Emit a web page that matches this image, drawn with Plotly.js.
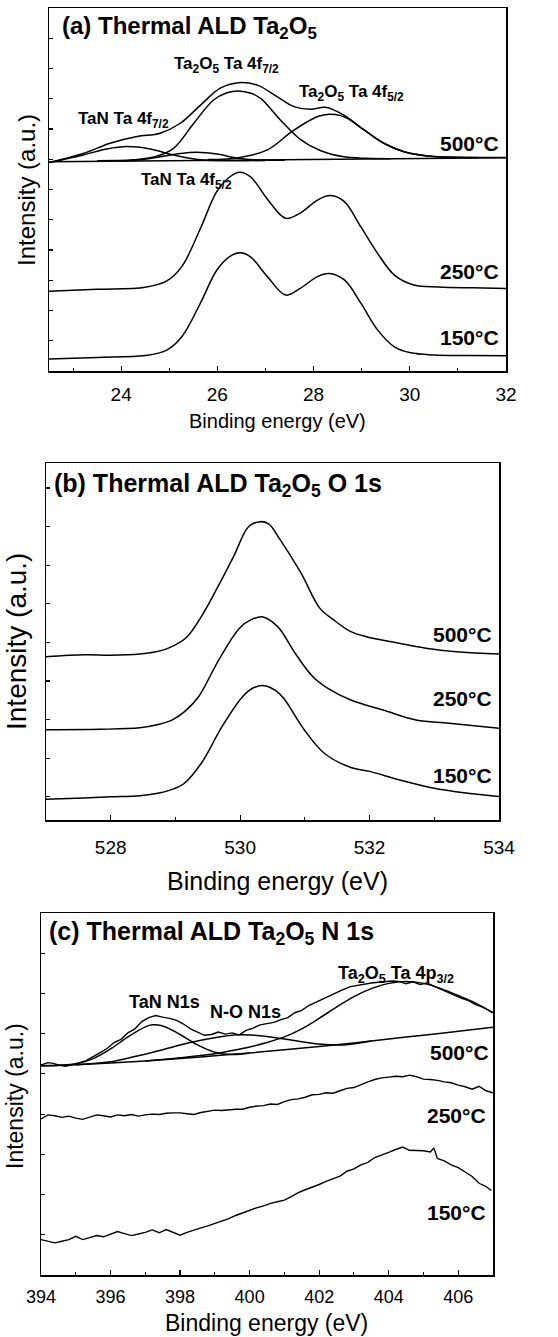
<!DOCTYPE html>
<html>
<head>
<meta charset="utf-8">
<script src="https://cdn.plot.ly/plotly-3.0.1.min.js"></script>
<style>
html,body{margin:0;padding:0;background:#fff;}
#chart{width:558px;height:1337px;}
</style>
</head>
<body>
<div id="chart"></div>
<script>
// ---------------- Panel (a): Ta 4f ----------------
const a150_x = [22.5, 23.5, 24.5, 24.95, 25.26, 25.65, 25.99, 26.27, 26.48, 26.69, 27.04, 27.42, 27.73, 28.08, 28.32, 28.64, 28.98, 29.33, 29.68, 30.02, 30.5, 31.2, 32];
const a150_y = [0.40, 0.45, 0.51, 0.69, 1.13, 2.25, 3.34, 3.80, 3.91, 3.77, 3.12, 2.51, 2.74, 3.12, 3.22, 3.01, 2.25, 1.36, 0.80, 0.60, 0.53, 0.51, 0.50];

const a250_x = [22.5, 23.5, 24.5, 24.95, 25.26, 25.65, 25.99, 26.27, 26.46, 26.69, 27.04, 27.42, 27.73, 28.08, 28.35, 28.64, 28.98, 29.33, 29.68, 30.09, 30.6, 31.3, 32];
const a250_y = [2.64, 2.70, 2.77, 2.98, 3.45, 4.72, 5.94, 6.43, 6.57, 6.42, 5.68, 5.05, 5.23, 5.65, 5.80, 5.60, 4.77, 3.89, 3.17, 2.84, 2.78, 2.75, 2.73];

const a500_x = [22.5, 23.21, 23.77, 24.33, 24.81, 25.23, 25.65, 26.06, 26.44, 26.83, 27.24, 27.59, 27.94, 28.25, 28.63, 29.05, 29.46, 29.88, 30.37, 31.2, 32];
const a500_y = [6.89, 7.19, 7.53, 7.75, 7.86, 8.19, 8.79, 9.35, 9.53, 9.45, 9.07, 8.74, 8.65, 8.72, 8.46, 7.97, 7.53, 7.25, 7.11, 7.06, 7.06];

const aOx72_x = [23.5, 24.25, 24.7, 25.09, 25.51, 25.92, 26.2, 26.44, 26.7, 26.9, 27.31, 27.73, 28.15, 28.63, 29.1, 29.6];
const aOx72_y = [6.95, 6.98, 7.08, 7.36, 8.19, 8.96, 9.20, 9.26, 9.18, 9.01, 8.30, 7.65, 7.28, 7.08, 7.03, 7.02];

const aOx52_x = [25.8, 26.34, 27.04, 27.52, 27.87, 28.1, 28.32, 28.55, 28.7, 29.05, 29.46, 29.88, 30.37, 30.9, 31.4];
const aOx52_y = [6.99, 7.03, 7.31, 7.88, 8.24, 8.42, 8.49, 8.45, 8.35, 7.97, 7.53, 7.25, 7.11, 7.07, 7.06];

const aTaN72_x = [22.52, 23.21, 23.7, 24.12, 24.6, 25.09, 25.65, 26.3, 27.0];
const aTaN72_y = [6.89, 7.14, 7.34, 7.42, 7.34, 7.14, 6.98, 6.95, 6.96];

const aTaN52_x = [24.0, 24.4, 24.81, 25.23, 25.58, 25.99, 26.44, 26.9, 27.4];
const aTaN52_y = [6.94, 6.98, 7.08, 7.19, 7.23, 7.17, 7.03, 6.97, 6.97];

const aBg_x = [22.5, 32];
const aBg_y = [6.92, 7.05];

// ---------------- Panel (b): O 1s ----------------
const b150_x = [527.0, 527.58, 528.0, 528.45, 528.75, 528.96, 529.13, 529.4, 529.72, 530.04, 530.2, 530.38, 530.55, 530.67, 530.99, 531.3, 531.71, 532.0, 532.46, 532.98, 533.49, 534.0];
const b150_y = [-0.06, -0.03, 0.00, 0.03, 0.10, 0.20, 0.34, 0.87, 1.82, 2.60, 2.82, 2.88, 2.75, 2.56, 1.74, 1.13, 0.76, 0.66, 0.44, 0.23, 0.10, 0.01];

const b250_x = [527.0, 527.83, 528.45, 528.75, 528.96, 529.15, 529.36, 529.67, 529.99, 530.17, 530.35, 530.58, 530.85, 531.12, 531.35, 531.71, 532.21, 532.72, 533.23, 534.0];
const b250_y = [1.74, 1.75, 1.79, 1.88, 2.00, 2.22, 2.60, 3.55, 4.37, 4.59, 4.66, 4.41, 3.72, 3.12, 2.82, 2.51, 2.25, 1.99, 1.91, 1.78];

const b500_x = [527.0, 527.6, 528.0, 528.45, 528.7, 528.9, 529.17, 529.4, 529.63, 529.9, 530.13, 530.31, 530.44, 530.62, 530.94, 531.23, 531.44, 531.71, 531.95, 532.46, 532.87, 533.39, 534.0];
const b500_y = [3.63, 3.68, 3.67, 3.70, 3.76, 3.86, 4.13, 4.67, 5.36, 6.23, 7.00, 7.13, 7.07, 6.66, 5.80, 4.89, 4.59, 4.28, 4.15, 3.98, 3.85, 3.75, 3.70];

// ---------------- Panel (c): N 1s ----------------
const c150_x = [394.0, 394.2, 394.4, 394.6, 394.8, 395.0, 395.2, 395.4, 395.6, 395.8, 396.0, 396.2, 396.4, 396.6, 396.8, 397.0, 397.2, 397.4, 397.6, 397.8, 398.0, 398.2, 398.4, 398.6, 398.8, 399.0, 399.2, 399.4, 399.6, 399.8, 400.0, 400.2, 400.4, 400.6, 400.8, 401.0, 401.2, 401.4, 401.6, 401.8, 402.0, 402.2, 402.4, 402.6, 402.8, 403.0, 403.2, 403.4, 403.6, 403.8, 404.0, 404.2, 404.4, 404.6, 404.8, 405.0, 405.2, 405.3, 405.4, 405.6, 405.8, 406.0, 406.2, 406.4, 406.6, 406.8, 406.95];
const c150_y = [0.88, 0.84, 0.80, 0.84, 0.88, 0.96, 0.88, 0.93, 0.98, 0.95, 1.02, 1.08, 1.03, 0.98, 1.02, 1.06, 1.12, 1.05, 1.13, 1.06, 0.99, 1.06, 1.12, 1.17, 1.22, 1.28, 1.34, 1.40, 1.48, 1.55, 1.62, 1.67, 1.72, 1.78, 1.82, 1.86, 1.95, 2.05, 2.12, 2.18, 2.25, 2.33, 2.40, 2.46, 2.58, 2.64, 2.74, 2.80, 2.92, 2.98, 3.05, 3.12, 3.18, 3.10, 3.09, 3.09, 3.06, 3.16, 2.90, 2.84, 2.74, 2.67, 2.56, 2.45, 2.28, 2.20, 2.10];

const c250_x = [394.0, 394.2, 394.4, 394.6, 394.8, 395.0, 395.2, 395.4, 395.6, 395.8, 396.0, 396.2, 396.4, 396.6, 396.8, 397.0, 397.2, 397.4, 397.6, 397.8, 398.0, 398.2, 398.4, 398.6, 398.8, 399.0, 399.2, 399.4, 399.6, 399.8, 400.0, 400.2, 400.4, 400.6, 400.8, 401.0, 401.2, 401.4, 401.6, 401.8, 402.0, 402.2, 402.4, 402.6, 402.8, 403.0, 403.2, 403.4, 403.6, 403.8, 404.0, 404.2, 404.4, 404.6, 404.8, 405.0, 405.2, 405.4, 405.6, 405.8, 406.0, 406.2, 406.4, 406.6, 406.8, 407.0];
const c250_y = [3.88, 3.98, 3.96, 3.92, 3.95, 3.90, 3.87, 3.93, 3.98, 3.96, 3.93, 3.98, 3.96, 3.99, 3.95, 3.98, 4.00, 3.99, 4.02, 4.03, 4.03, 4.01, 3.99, 4.04, 4.07, 4.10, 4.09, 4.11, 4.12, 4.12, 4.17, 4.20, 4.21, 4.25, 4.24, 4.31, 4.36, 4.38, 4.42, 4.48, 4.49, 4.53, 4.52, 4.58, 4.64, 4.66, 4.74, 4.80, 4.86, 4.90, 4.92, 4.94, 4.93, 4.97, 4.93, 4.87, 4.86, 4.84, 4.80, 4.78, 4.72, 4.68, 4.62, 4.69, 4.58, 4.53];

const c500_x = [394.0, 394.2, 394.35, 394.5, 394.7, 394.9, 395.1, 395.3, 395.5, 395.7, 395.9, 396.1, 396.3, 396.5, 396.7, 396.9, 397.1, 397.3, 397.5, 397.7, 397.9, 398.1, 398.3, 398.5, 398.7, 398.9, 399.1, 399.3, 399.5, 399.7, 399.9, 400.1, 400.3, 400.5, 400.7, 400.9, 401.1, 401.3, 401.5, 401.7, 401.9, 402.1, 402.3, 402.5, 402.7, 402.9, 403.1, 403.3, 403.5, 403.7, 403.9, 404.1, 404.3, 404.5, 404.7, 404.9, 405.1, 405.3, 405.5, 405.7, 405.9, 406.1, 406.3, 406.5, 406.7, 406.9, 407.0];
const c500_y = [5.22, 5.28, 5.26, 5.22, 5.19, 5.23, 5.27, 5.33, 5.42, 5.53, 5.63, 5.78, 5.86, 6.02, 6.12, 6.30, 6.40, 6.45, 6.41, 6.38, 6.33, 6.24, 6.12, 6.03, 5.96, 5.98, 6.04, 5.99, 6.02, 5.97, 6.08, 6.14, 6.22, 6.25, 6.28, 6.35, 6.40, 6.52, 6.58, 6.70, 6.78, 6.87, 6.96, 7.04, 7.10, 7.17, 7.20, 7.24, 7.26, 7.28, 7.30, 7.31, 7.30, 7.24, 7.29, 7.22, 7.26, 7.18, 7.10, 7.02, 6.96, 6.88, 6.82, 6.72, 6.66, 6.56, 6.52];

const cBg_x = [394, 395, 396, 397, 398, 399, 400, 401, 402, 403, 404, 405, 406, 407];
const cBg_y = [5.20, 5.23, 5.27, 5.32, 5.38, 5.45, 5.52, 5.60, 5.68, 5.77, 5.87, 5.96, 6.06, 6.16];

const cTaN_x = [394.0, 394.5, 395.0, 395.5, 396.0, 396.5, 397.0, 397.2, 397.5, 398.0, 398.5, 399.0, 399.5, 400.0];
const cTaN_y = [5.20, 5.21, 5.25, 5.38, 5.62, 5.92, 6.17, 6.22, 6.19, 5.98, 5.72, 5.54, 5.48, 5.52];

const cNO_x = [395.0, 396.0, 396.7, 397.5, 398.2, 399.0, 399.7, 400.3, 400.9, 401.5, 402.0, 402.7, 403.5];
const cNO_y = [5.23, 5.30, 5.43, 5.60, 5.76, 5.90, 5.97, 5.95, 5.88, 5.80, 5.74, 5.72, 5.82];

const cOx_x = [397.0, 398.0, 399.0, 399.5, 400.0, 400.5, 401.0, 401.5, 402.0, 402.5, 403.0, 403.5, 404.0, 404.5, 405.0, 405.5, 406.0, 406.5, 407.0];
const cOx_y = [5.32, 5.40, 5.50, 5.58, 5.67, 5.78, 5.92, 6.12, 6.38, 6.66, 6.92, 7.12, 7.25, 7.30, 7.25, 7.12, 6.95, 6.76, 6.52];

// tick labels / texts
const tempLabels = ['500°C', '250°C', '150°C'];
const xTitle = 'Binding energy (eV)';
const yTitle = 'Intensity (a.u.)';

// ---------------- build ----------------
const W = 558, H = 1337;
const px = v => v / W;
const py = v => 1 - v / H;
const FONT = 'Liberation Sans, Arial, Helvetica, sans-serif';

function line(x, y, ax, smooth) {
  return {
    x: x, y: y, xaxis: 'x' + ax, yaxis: 'y' + ax, type: 'scatter', mode: 'lines',
    line: smooth ? {color: '#000', width: 1.5, shape: 'spline', smoothing: 1} : {color: '#000', width: 1.4},
    hoverinfo: 'skip', showlegend: false
  };
}
const traces = [
  line(aBg_x, aBg_y, '', true),
  line(a150_x, a150_y, '', true), line(a250_x, a250_y, '', true), line(a500_x, a500_y, '', true),
  line(aOx72_x, aOx72_y, '', true), line(aOx52_x, aOx52_y, '', true),
  line(aTaN72_x, aTaN72_y, '', true), line(aTaN52_x, aTaN52_y, '', true),
  line(b150_x, b150_y, '2', true), line(b250_x, b250_y, '2', true), line(b500_x, b500_y, '2', true),
  line(c150_x, c150_y, '3', false), line(c250_x, c250_y, '3', false), line(c500_x, c500_y, '3', false),
  line(cBg_x, cBg_y, '3', true), line(cTaN_x, cTaN_y, '3', true), line(cNO_x, cNO_y, '3', true), line(cOx_x, cOx_y, '3', true)
];

function xax(dom, rng, anchor, fs, standoff) {
  return {
    domain: dom, range: rng, anchor: anchor, dtick: 2, ticks: 'inside', ticklen: 5, tickwidth: 1.2, tickcolor: '#000',
    minor: {dtick: 1, ticks: 'inside', ticklen: 3, tickwidth: 1, tickcolor: '#000'},
    showline: true, mirror: true, linecolor: '#000', linewidth: 1.5, showgrid: false, zeroline: false,
    tickfont: {family: FONT, size: fs, color: '#000'}, ticklabelstandoff: standoff, fixedrange: true
  };
}
function yax(dom, rng, anchor) {
  return {
    domain: dom, range: rng, anchor: anchor, tick0: 0, dtick: 1, ticks: 'inside', ticklen: 4, tickwidth: 1.2, tickcolor: '#000',
    showticklabels: false, showline: true, mirror: true, linecolor: '#000', linewidth: 1.5, showgrid: false, zeroline: false, fixedrange: true
  };
}

function ann(text, x, y, size, opts) {
  return Object.assign({
    text: text, xref: 'paper', yref: 'paper', x: px(x), y: py(y), xanchor: 'left', yanchor: 'middle',
    showarrow: false, font: {family: FONT, size: size, color: '#000'}
  }, opts || {});
}
const B = s => '<b>' + s + '</b>';

const annotations = [
  // panel a
  ann(B('(a) Thermal ALD Ta<sub>2</sub>O<sub>5</sub>'), 60, 27, 24),
  ann(B('Ta<sub>2</sub>O<sub>5</sub> Ta 4f<sub>7/2</sub>'), 172, 65, 17),
  ann(B('Ta<sub>2</sub>O<sub>5</sub> Ta 4f<sub>5/2</sub>'), 297, 93, 17),
  ann(B('TaN Ta 4f<sub>7/2</sub>'), 76, 120, 17),
  ann(B('TaN Ta 4f<sub>5/2</sub>'), 139, 181, 17),
  ann(B(tempLabels[0]), 501, 143, 21, {xanchor: 'right'}),
  ann(B(tempLabels[1]), 501, 271, 21, {xanchor: 'right'}),
  ann(B(tempLabels[2]), 501, 337, 21, {xanchor: 'right'}),
  ann(xTitle, 277, 421, 20, {xanchor: 'center'}),
  ann(yTitle, 27, 190, 24, {xanchor: 'center', textangle: -90}),
  // panel b
  ann(B('(b) Thermal ALD Ta<sub>2</sub>O<sub>5</sub> O 1s'), 52, 485, 25),
  ann(B(tempLabels[0]), 494, 635, 21, {xanchor: 'right'}),
  ann(B(tempLabels[1]), 494, 698, 21, {xanchor: 'right'}),
  ann(B(tempLabels[2]), 494, 775, 21, {xanchor: 'right'}),
  ann(xTitle, 277, 881, 25, {xanchor: 'center'}),
  ann(yTitle, 16, 642, 28, {xanchor: 'center', textangle: -90}),
  // panel c
  ann(B('(c) Thermal ALD Ta<sub>2</sub>O<sub>5</sub> N 1s'), 47, 933, 25),
  ann(B('TaN N1s'), 127, 1002, 18),
  ann(B('N-O N1s'), 208, 1012, 18),
  ann(B('Ta<sub>2</sub>O<sub>5</sub> Ta 4p<sub>3/2</sub>'), 336, 974, 18),
  ann(B(tempLabels[0]), 491, 1052, 21, {xanchor: 'right'}),
  ann(B(tempLabels[1]), 488, 1115, 21, {xanchor: 'right'}),
  ann(B(tempLabels[2]), 488, 1212, 21, {xanchor: 'right'}),
  ann(xTitle, 266, 1323, 23, {xanchor: 'center'}),
  ann(yTitle, 15, 1096, 23, {xanchor: 'center', textangle: -90})
];

const layout = {
  width: W, height: H, margin: {l: 0, r: 0, t: 0, b: 0},
  paper_bgcolor: '#fff', plot_bgcolor: '#fff', showlegend: false,
  font: {family: FONT, color: '#000'},
  xaxis: xax([px(49), px(506)], [22.5, 32], 'y', 19, 6),
  yaxis: yax([py(371), py(8)], [0, 12], 'x'),
  xaxis2: xax([px(46), px(499)], [527, 534], 'y2', 19, 10),
  yaxis2: yax([py(820), py(463)], [-0.6, 8.65], 'x2'),
  xaxis3: xax([px(41), px(493)], [394, 407], 'y3', 18, 5),
  yaxis3: yax([py(1275), py(913)], [0, 9], 'x3'),
  annotations: annotations
};

Plotly.newPlot('chart', traces, layout, {staticPlot: true, displayModeBar: false});
</script>
</body>
</html>
